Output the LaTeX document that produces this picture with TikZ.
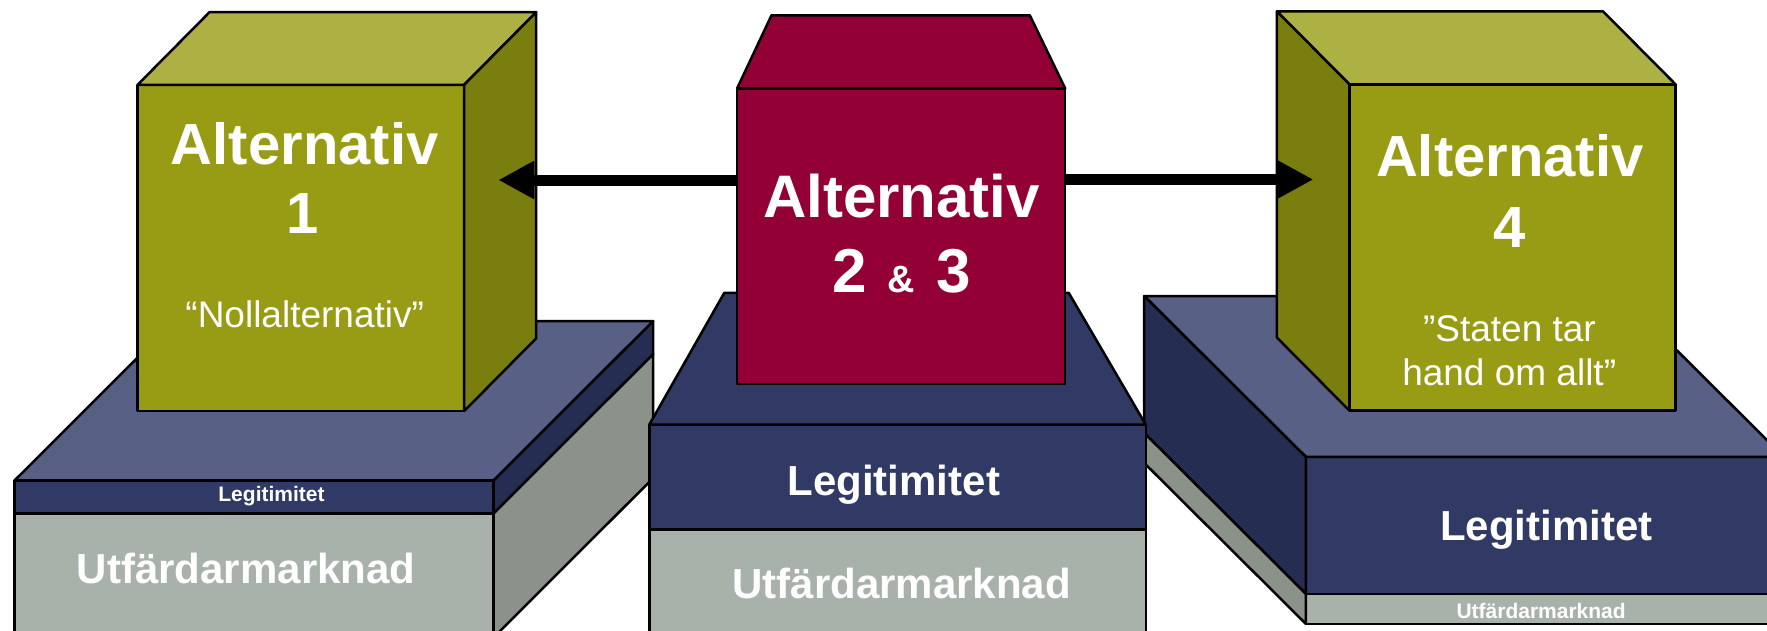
\documentclass[tikz,border=0pt]{standalone}
\usepackage{fontspec}
\setmainfont{Liberation Sans}
\usetikzlibrary{arrows.meta}
\definecolor{olivefront}{RGB}{152,156,20}
\definecolor{olivetop}{RGB}{173,176,66}
\definecolor{oliveside}{RGB}{122,126,14}
\definecolor{crimson}{RGB}{147,0,54}
\definecolor{navyfront}{RGB}{49,57,101}
\definecolor{navytop}{RGB}{88,96,133}
\definecolor{navyside}{RGB}{38,45,82}
\definecolor{grayfront}{RGB}{169,178,170}
\definecolor{grayside}{RGB}{138,146,138}
\begin{document}
\begin{tikzpicture}[x=1pt,y=-1pt,
  outl/.style={draw=black,line width=2.5pt,line join=round},
  face/.style={outl,rectangle,inner sep=0pt,outer sep=0pt,anchor=north west},
  txt/.style={text=white,inner sep=0pt,anchor=base},
  bigbold/.style={font=\fontsize{58}{58}\selectfont\bfseries},
  midbold/.style={font=\fontsize{42}{42}\selectfont\bfseries},
  smallbold/.style={font=\fontsize{21}{21}\selectfont\bfseries},
  reg/.style={font=\fontsize{37}{37}\selectfont},
  arrowline/.style={line width=11pt,-{Triangle[length=36pt,width=36pt]}}]
\useasboundingbox (0,0) rectangle (1767,630);
\clip (0,0) rectangle (1767,630);

% ---------- left platform ----------
\node[face,fill=navyfront,minimum width=479pt,minimum height=33pt] (lband) at (14.7,480.3) {};
\node[face,fill=grayfront,minimum width=479pt,minimum height=140pt] (lgray) at (lband.south west) {};
\draw[outl,fill=navytop] (lband.north west) -- ++(159.5,-159.2) -- ++(479,0) -- (lband.north east) -- cycle;
\draw[outl,fill=navyside] (lband.north east) -- ++(159.5,-159.2) -- ++(0,33) -- (lband.south east) -- cycle;
\draw[outl,fill=grayside] (lgray.north east) -- ++(159.5,-159.2) -- ++(0,124) -- ++(-159.5,159.2) -- cycle;

% ---------- right platform ----------
\node[face,fill=navyfront,minimum width=478pt,minimum height=137pt] (rband) at (1305.8,456.8) {};
\node[face,fill=grayfront,minimum width=478pt,minimum height=30pt] (rgray) at (rband.south west) {};
\draw[outl,fill=navytop] (rband.north west) -- ++(-161.6,-160.8) -- ++(478,0) -- (rband.north east) -- cycle;
\draw[outl,fill=navyside] (rband.north west) -- ++(-161.6,-160.8) -- ++(0,137) -- (rband.south west) -- cycle;
\draw[outl,fill=grayside] (rgray.north west) -- ++(-161.6,-160.8) -- ++(0,30) -- (rgray.south west) -- cycle;

% ---------- middle platform ----------
\node[face,fill=navyfront,minimum width=496.5pt,minimum height=104.8pt] (mband) at (649.3,424.7) {};
\node[face,fill=grayfront,minimum width=496.5pt,minimum height=120pt] (mgray) at (mband.south west) {};
\draw[outl,fill=navyfront] (mband.north west) -- (724.3,292.8) -- (1068.7,292.8) -- (mband.north east) -- cycle;

% ---------- left cube ----------
\node[face,fill=olivefront,minimum width=326.6pt,minimum height=326.2pt] (c1) at (137.6,84.8) {};
\draw[outl,fill=olivetop] (c1.north west) -- ++(72,-72.7) -- ++(326.6,0) -- (c1.north east) -- cycle;
\draw[outl,fill=oliveside] (c1.north east) -- ++(72,-72.7) -- ++(0,326.2) -- (c1.south east) -- cycle;

% ---------- right cube ----------
\node[face,fill=olivefront,minimum width=326.2pt,minimum height=326.2pt] (c4) at (1349.4,84.4) {};
\draw[outl,fill=olivetop] (c4.north west) -- ++(-72.5,-73) -- ++(326.2,0) -- (c4.north east) -- cycle;
\draw[outl,fill=oliveside] (c4.north west) -- ++(-72.5,-73) -- ++(0,326.2) -- (c4.south west) -- cycle;

% ---------- arrows ----------
\coordinate (tipL) at (498.3,180);
\coordinate (tipR) at (1313.4,179.5);
\coordinate (mfl) at (737.1,180);
\coordinate (mfr) at (1065.2,179.5);
\draw[arrowline] (mfl) -- (tipL);
\draw[arrowline] (mfr) -- (tipR);

% ---------- middle box ----------
\node[face,fill=crimson,minimum width=328.1pt,minimum height=295.6pt] (c23) at (737.1,88.4) {};
\draw[outl,fill=crimson] (c23.north west) -- (771.5,15.3) -- (1029.8,15.3) -- (c23.north east) -- cycle;

% ---------- texts ----------
\node[txt,bigbold] (t1a) at (304.7,164.7) {Alternativ};
\node[txt,bigbold] (t1b) at (303,233.8) {1};
\node[txt,reg] (t1c) at (304.7,327.4) {“Nollalternativ”};

\node[txt,font=\fontsize{60}{60}\selectfont\bfseries] (t23a) at (901.5,217) {Alternativ};
\node[txt,font=\fontsize{62}{62}\selectfont\bfseries] (t23b) at (901.3,292.5) {2\hspace{21pt}{\fontsize{38}{38}\selectfont\&}\hspace{21pt}3};

\node[txt,bigbold] (t4a) at (1509.8,176.8) {Alternativ};
\node[txt,bigbold] (t4b) at (1509.3,247) {4};
\node[txt,reg] (t4c) at (1509.4,341.5) {”Staten tar};
\node[txt,reg] (t4d) at (1509.2,385.7) {hand om allt”};

\node[txt,smallbold] (lleg) at (271.5,501.4) {Legitimitet};
\node[txt,midbold] (lutf) at (246.2,583.4) {Utfärdarmarknad};
\node[txt,midbold] (mleg) at (893.8,495) {Legitimitet};
\node[txt,midbold] (mutf) at (901.7,598.6) {Utfärdarmarknad};
\node[txt,midbold] (rleg) at (1546.4,540.4) {Legitimitet};
\node[txt,smallbold] (rutf) at (1541.1,618.7) {Utfärdarmarknad};
\end{tikzpicture}
\end{document}
